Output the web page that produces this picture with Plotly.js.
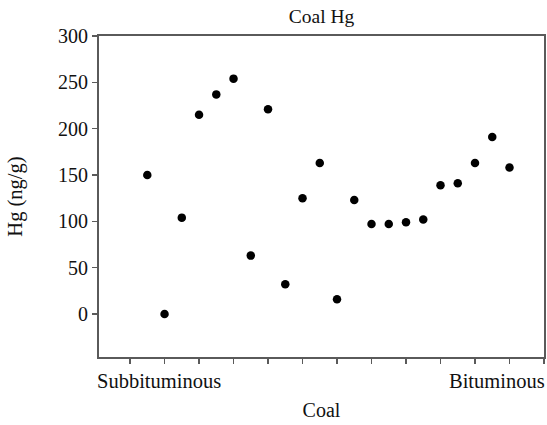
<!DOCTYPE html>
<html>
<head>
<meta charset="utf-8">
<script src="https://cdn.plot.ly/plotly-3.0.1.min.js"></script>
<style>
  html, body { margin: 0; padding: 0; background: #fff; }
  #chart { width: 547px; height: 425px; }
</style>
</head>
<body>
<div id="chart"></div>
<script>
// Coal samples, ordered from subbituminous to bituminous
const sampleIndex = [1, 2, 3, 4, 5, 6, 7, 8, 9, 10, 11, 12, 13, 14, 15, 16, 17, 18, 19, 20, 21, 22];
const mercuryNgPerG = [150, 0, 104, 215, 237, 254, 63, 221, 32, 125, 163, 16, 123, 97, 97, 99, 102, 139, 141, 163, 191, 158];

// Rank labels shown at the two ends of the x axis
const rankLabels = ['Subbituminous', 'Bituminous'];
const yTickValues = [0, 50, 100, 150, 200, 250, 300];
const xTickValues = [0, 2, 4, 6, 8, 10, 12, 14, 16, 18, 20, 22, 24];

const serif = 'Liberation Serif, Times New Roman, serif';
const axisGrey = '#5a5a5a';
const textColor = '#111';

const trace = {
  type: 'scatter',
  mode: 'markers',
  x: sampleIndex,
  y: mercuryNgPerG,
  marker: { color: '#000', size: 8.5 },
  hoverinfo: 'x+y'
};

const layout = {
  width: 547,
  height: 425,
  margin: { l: 99, r: 3, t: 36, b: 68 },
  paper_bgcolor: '#fff',
  plot_bgcolor: '#fff',
  showlegend: false,
  font: { family: serif, size: 20, color: textColor },
  title: {
    text: 'Coal Hg',
    font: { family: serif, size: 19.5, color: textColor },
    x: 0.5, xref: 'paper',
    y: 1 - 16 / 425, yref: 'container', yanchor: 'middle'
  },
  xaxis: {
    range: [-1.8, 24],
    tickmode: 'array',
    tickvals: xTickValues,
    showticklabels: false,
    ticks: 'outside', ticklen: 5, tickwidth: 1.5, tickcolor: axisGrey,
    showgrid: false, zeroline: false,
    showline: true, linecolor: axisGrey, linewidth: 2, mirror: true,
    title: { text: 'Coal', font: { family: serif, size: 20, color: textColor }, standoff: 40 }
  },
  yaxis: {
    range: [-46.4, 300],
    tickmode: 'array',
    tickvals: yTickValues,
    ticktext: yTickValues.map(String),
    ticks: 'outside', ticklen: 5, tickwidth: 1.5, tickcolor: axisGrey,
    tickfont: { family: serif, size: 20, color: textColor },
    showgrid: false, zeroline: false,
    showline: true, linecolor: axisGrey, linewidth: 2, mirror: true,
    title: { text: 'Hg (ng/g)', font: { family: serif, size: 20.5, color: textColor }, standoff: 30 }
  },
  annotations: [
    {
      text: rankLabels[0], xref: 'paper', yref: 'paper', x: 0, y: -0.075,
      xanchor: 'left', yanchor: 'middle', showarrow: false, xshift: -4,
      font: { family: serif, size: 20.5, color: textColor }
    },
    {
      text: rankLabels[1], xref: 'paper', yref: 'paper', x: 1, y: -0.075,
      xanchor: 'right', yanchor: 'middle', showarrow: false, xshift: 3,
      font: { family: serif, size: 20.5, color: textColor }
    }
  ]
};

Plotly.newPlot('chart', [trace], layout, { staticPlot: true, displayModeBar: false });
</script>
</body>
</html>
